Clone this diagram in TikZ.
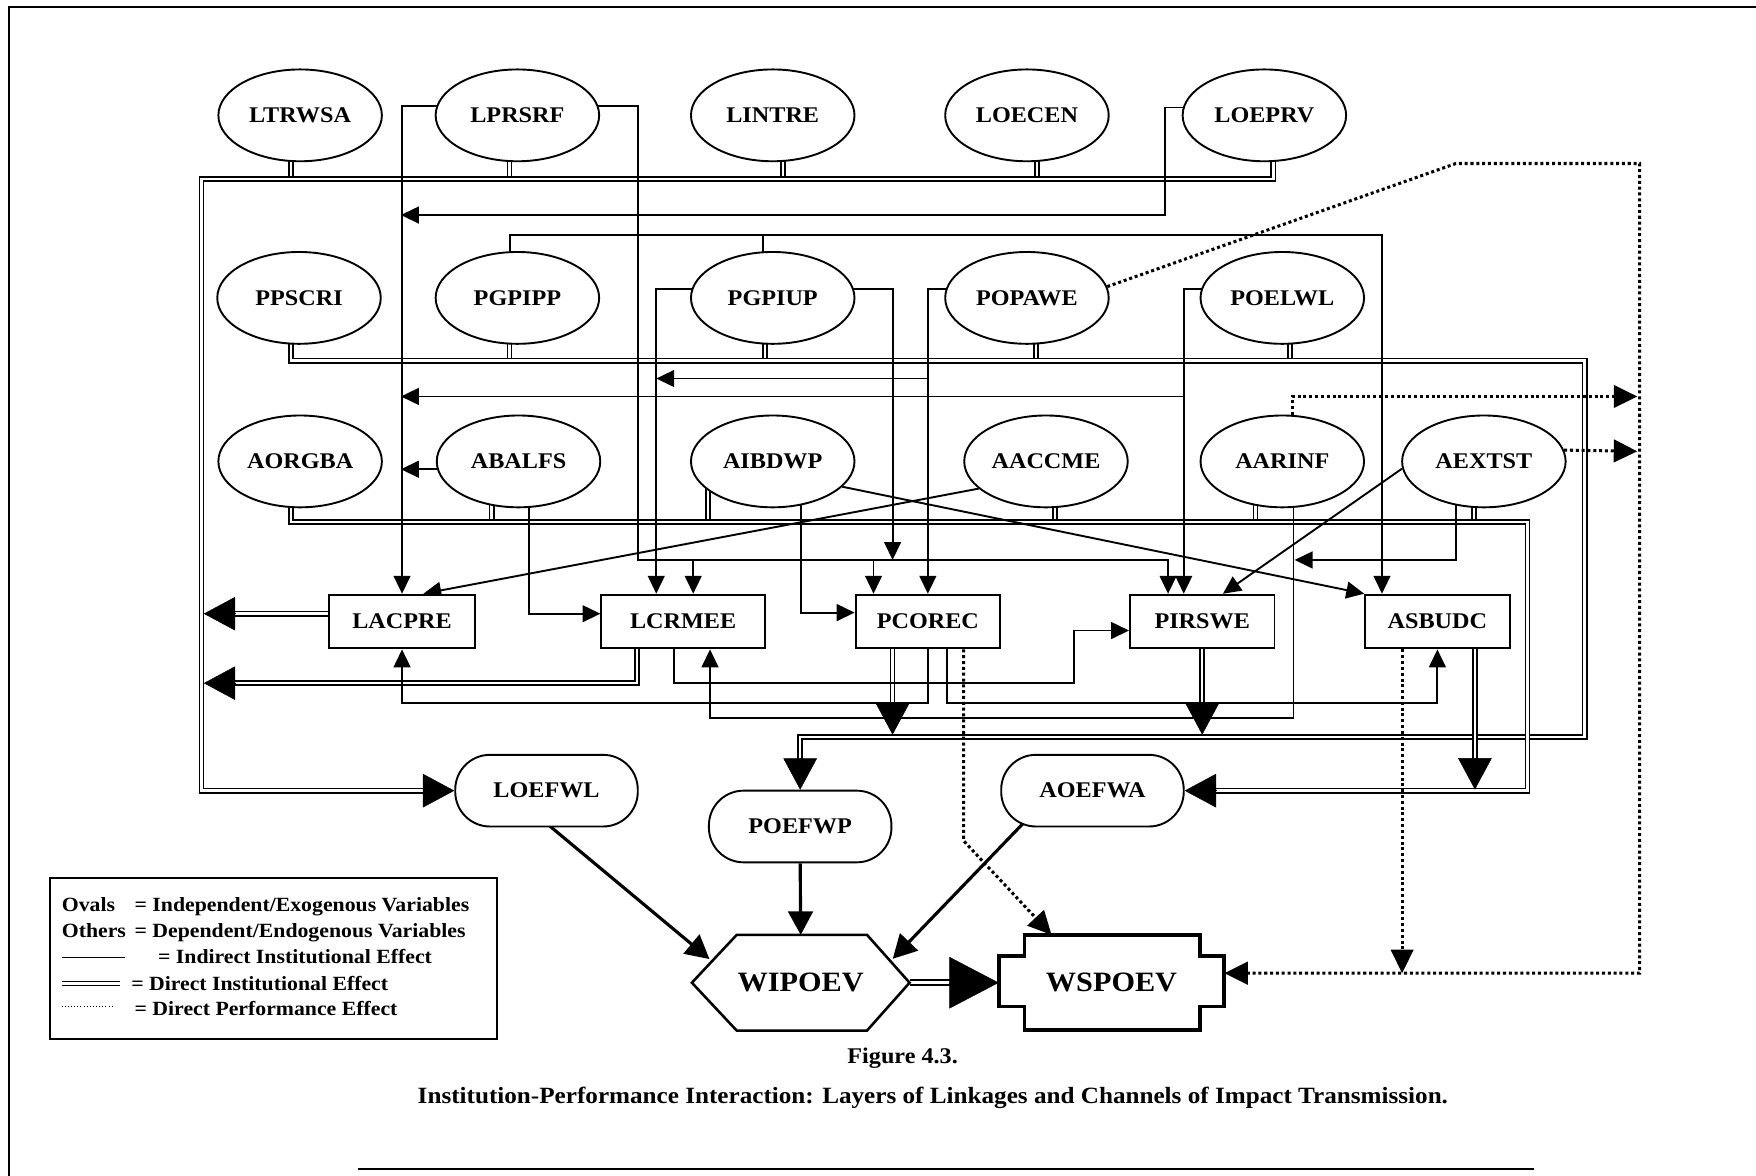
\documentclass[tikz,border=0pt]{standalone}
\usepackage{fontspec}
\setmainfont{Liberation Serif}[FakeStretch=1.08]
\usetikzlibrary{arrows.meta,shapes.geometric,backgrounds,calc}

\tikzset{
  lbl/.style={font=\fontsize{20}{22}\selectfont\bfseries},
  var/.style={ellipse, draw, line width=1.7pt, fill=white, minimum width=146pt,
    minimum height=82pt, inner sep=0pt, lbl},
  endo/.style={rectangle, draw, line width=1.7pt, fill=white, minimum height=48pt,
    inner sep=0pt, lbl},
  pill/.style={rectangle, rounded corners=31pt, draw, line width=1.7pt, fill=white,
    minimum width=163pt, minimum height=64pt, inner sep=0pt, lbl},
  ind/.style={line width=1.7pt},
  dbl/.style={double, double distance=2.2pt, line width=1.5pt},
  perf/.style={line width=2.7pt, dash pattern=on 2.7pt off 2.5pt},
  thk/.style={line width=2.8pt},
  sa/.style={-{Triangle[length=16pt,width=15pt]}},
  ma/.style={-{Triangle[length=21pt,width=22pt]}},
  pa/.style={-{Triangle[length=21pt,width=20pt]}},
  ba/.style={-{Triangle[length=28pt,width=30pt]}},
  legtext/.style={font=\fontsize{18}{20}\selectfont\bfseries, inner sep=0pt, anchor=base west},
}

\begin{document}
\begin{tikzpicture}[x=1pt,y=-1pt]
\useasboundingbox (0,0) rectangle (1568,1050);

% page frame
\draw[line width=1.8pt] (8,1050) -- (8,6) -- (1568,6);
\draw[line width=1.8pt] (320,1044) -- (1370,1044);

% exogenous variables
\node[var] (LTRWSA) at (268,103) {LTRWSA};
\node[var] (LPRSRF) at (462,103) {LPRSRF};
\node[var] (LINTRE) at (690,103) {LINTRE};
\node[var] (LOECEN) at (917,103) {LOECEN};
\node[var] (LOEPRV) at (1129,103) {LOEPRV};
\node[var] (PPSCRI) at (267,266) {PPSCRI};
\node[var] (PGPIPP) at (462,266) {PGPIPP};
\node[var] (PGPIUP) at (690,266) {PGPIUP};
\node[var] (POPAWE) at (917,266) {POPAWE};
\node[var] (POELWL) at (1145,266) {POELWL};
\node[var] (AORGBA) at (268,412) {AORGBA};
\node[var] (ABALFS) at (463,412) {ABALFS};
\node[var] (AIBDWP) at (690,412) {AIBDWP};
\node[var] (AACCME) at (934,412) {AACCME};
\node[var] (AARINF) at (1145,412) {AARINF};
\node[var] (AEXTST) at (1325,412) {AEXTST};

% endogenous variables
\node[endo, minimum width=130pt] (LACPRE) at (359,555) {LACPRE};
\node[endo, minimum width=146pt] (LCRMEE) at (610,555) {LCRMEE};
\node[endo, minimum width=129pt] (PCOREC) at (828.5,555) {PCOREC};
\node[endo, minimum width=129pt] (PIRSWE) at (1073.5,555) {PIRSWE};
\node[endo, minimum width=129pt] (ASBUDC) at (1283.5,555) {ASBUDC};
\node[pill] (LOEFWL) at (488,706) {LOEFWL};
\node[pill] (AOEFWA) at (975.5,706) {AOEFWA};
\node[pill] (POEFWP) at (714.5,738) {POEFWP};

% overall effects
\node[font=\fontsize{25}{27}\selectfont\bfseries, minimum width=194pt, minimum height=85pt,
  inner sep=0pt] (WIPOEV) at (715,877.5) {WIPOEV};
\coordinate (hNW) at ([xshift=40pt]WIPOEV.north west);
\coordinate (hNE) at ([xshift=-38pt]WIPOEV.north east);
\draw[line width=2.3pt] (WIPOEV.west) -- (hNW) -- (hNE) -- (WIPOEV.east)
  -- ([xshift=-38pt]WIPOEV.south east) -- ([xshift=40pt]WIPOEV.south west) -- cycle;
\node[font=\fontsize{25}{27}\selectfont\bfseries, minimum width=201pt, minimum height=85pt,
  inner sep=0pt] (WSPOEV) at (992.5,877.5) {WSPOEV};
\draw[line width=3.4pt] ([shift={(23,0)}]WSPOEV.north west) -- ++(157,0) -- ++(0,19)
  -- ++(21,0) -- ++(0,45) -- ++(-21,0) -- ++(0,21) -- ++(-157,0) -- ++(0,-21)
  -- ++(-23,0) -- ++(0,-45) -- ++(23,0) -- cycle;

% free ends of connectors
\coordinate (aL1) at (358,192);
\coordinate (aL2) at (358,354);
\coordinate (aL3) at (358,419);
\coordinate (aG1) at (586,338);
\coordinate (aD1) at (797,500);
\coordinate (aR1) at (1156,500);
\coordinate (lbA) at (182,548);
\coordinate (lbB) at (182,610);
\coordinate (tpA) at (797,656);
\coordinate (tpB) at (1073.5,656);
\coordinate (tpC) at (1317,705);
\coordinate (pE1) at (1462,354);
\coordinate (pE2) at (1462,403);
\coordinate (pS1) at (1252,869);

\begin{pgfonlayer}{background}
% direct institutional effects
\foreach \n/\x in {LTRWSA/260,LPRSRF/455,LINTRE/699,LOECEN/926}
  \draw[dbl] (\n.center -| \x,0) -- (\x,160);
\foreach \n/\x in {PGPIPP/455,PGPIUP/683,POPAWE/925,POELWL/1152}
  \draw[dbl] (\n.center -| \x,0) -- (\x,322);
\foreach \n/\x in {ABALFS/439,AIBDWP/632,AACCME/942,AARINF/1121,AEXTST/1316}
  \draw[dbl] (\n.center -| \x,0) -- (\x,466);

\draw[dbl, shorten >=27pt] (LOEPRV.center -| 1137,0) -- (1137,160) -- (180,160)
  -- (180,706) -- (LOEFWL.west);
\draw[ba] ([xshift=-28pt]LOEFWL.west) -- (LOEFWL.west);
\draw[dbl, shorten >=27pt] (PPSCRI.center -| 260,0) -- (260,322) -- (1415,322)
  -- (1415,658) -- (714.5,658) -- (POEFWP.north);
\draw[ba] ([yshift=28pt]POEFWP.north) -- (POEFWP.north);
\draw[dbl, shorten >=27pt] (AORGBA.center -| 260,0) -- (260,466) -- (1364,466)
  -- (1364,706) -- (AOEFWA.east);
\draw[ba] ([xshift=28pt]AOEFWA.east) -- (AOEFWA.east);

\draw[dbl, shorten >=27pt] ([yshift=7pt]LACPRE.west) -- (lbA);
\draw[ba] ([xshift=28pt]lbA) -- (lbA);
\draw[dbl, shorten >=27pt] ([xshift=-41pt]LCRMEE.south) |- (lbB);
\draw[ba] ([xshift=28pt]lbB) -- (lbB);
\draw[dbl, shorten >=27pt] ([xshift=-31.5pt]PCOREC.south) -- (tpA);
\draw[ba] ([yshift=28pt]tpA) -- (tpA);
\draw[dbl, shorten >=27pt] (PIRSWE.south) -- (tpB);
\draw[ba] ([yshift=28pt]tpB) -- (tpB);
\draw[dbl, shorten >=27pt] ([xshift=33.5pt]ASBUDC.south) -- (tpC);
\draw[ba] ([yshift=28pt]tpC) -- (tpC);
\draw[dbl, line width=1.8pt, shorten >=42pt] (WIPOEV.east) -- (WSPOEV.west);
\draw[-{Triangle[length=44pt,width=46pt]}] ([xshift=-44pt]WSPOEV.west) -- (WSPOEV.west);

% indirect institutional effects
\draw[ind, sa] ([yshift=8pt]LPRSRF.center) -| (LACPRE.north);
\draw[ind, sa] ([yshift=8pt]LPRSRF.center) -| (570,500) -| ([xshift=9pt]LCRMEE.north);
\draw[ind, sa] ([yshift=8pt]LPRSRF.center) -| (570,500) -| ([xshift=-48.5pt]PCOREC.north);
\draw[ind, sa] ([yshift=8pt]LPRSRF.center) -| (570,500) -| ([xshift=-30.5pt]PIRSWE.north);
\draw[ind, sa] ([yshift=7pt]LOEPRV.center) -| (1040,192) -- (aL1);
\draw[ind, sa] ([xshift=-7pt]PGPIPP.center) |- (1234,210) -- ([xshift=-49.5pt]ASBUDC.north);
\draw[ind] ([xshift=-9pt]PGPIUP.center) -- (681,210);
\draw[ind, sa] ([yshift=8pt]PGPIUP.center) -| ([xshift=-24pt]LCRMEE.north);
\draw[ind, sa] ([yshift=8pt]PGPIUP.center) -| (aD1);
\draw[ind, sa] ([yshift=8pt]POPAWE.center) -| (PCOREC.north);
\draw[ind, sa] ([yshift=8pt]POPAWE.center) -| (829,338) -- (aG1);
\draw[ind, sa] ([yshift=8pt]POELWL.center) -| ([xshift=-16.5pt]PIRSWE.north);
\draw[ind, sa] ([yshift=8pt]POELWL.center) -| (1057,354) -- (aL2);
\draw[ind, sa] ([yshift=-7pt]ABALFS.center) -- (aL3);
\draw[ind, sa] ([xshift=9pt]ABALFS.center) |- ([yshift=7pt]LCRMEE.west);
\draw[ind, sa] ([xshift=25pt]AIBDWP.center) |- ([yshift=8pt]PCOREC.west);
\draw[ind, sa] (AIBDWP.-20) -- (ASBUDC.north west);
\draw[ind, sa] (AACCME.202) -- ([xshift=19pt]LACPRE.north);
\draw[ind, sa] (AEXTST.185) -- ([xshift=18.5pt]PIRSWE.north);
\draw[ind, sa] ([xshift=-25pt]AEXTST.center) |- (aR1);
\draw[ind, sa] ([xshift=10pt]AARINF.center) |- (634,641) -- ([xshift=24pt]LCRMEE.south);
\draw[ind, sa] ([xshift=-8pt]LCRMEE.south) |- (959,610) |- ([yshift=-8pt]PIRSWE.west);
\draw[ind, sa] (PCOREC.south) |- ([yshift=-48pt]LACPRE.south) -- (LACPRE.south);
\draw[ind, sa] ([xshift=17.5pt]PCOREC.south) |- ([yshift=-48pt]ASBUDC.south) -- (ASBUDC.south);

\draw[thk, ma, shorten >=3pt] ([shift={(-17,15)}]LOEFWL.center) -- ($(WIPOEV.west)!0.45!(hNW)$);
\draw[thk, ma] (POEFWP.south) -- (WIPOEV.north);
\draw[thk, ma, shorten >=3pt] ([shift={(-53.5,20.5)}]AOEFWA.center) -- ($(WIPOEV.east)!0.45!(hNE)$);

% direct performance effects
\draw[perf, pa] (POPAWE.8) -- (1300,146) -- (1464,146) -- (1464,869) -- ([yshift=8.5pt]WSPOEV.east);
\draw[perf, pa] ([xshift=9pt]AARINF.north) |- (pE1);
\draw[perf, pa] (AEXTST.8) -- (pE2);
\draw[perf, pa] ([xshift=32pt]PCOREC.south) -- ++(0,171) -- ([xshift=-53.5pt]WSPOEV.north);
\draw[perf, pa] ([xshift=-31.5pt]ASBUDC.south) -- (pS1);
\end{pgfonlayer}

% legend
\node[draw, line width=1.8pt, minimum width=399pt, minimum height=144pt, inner sep=0pt,
  anchor=north west] (legend) at (44,783) {};
\node[legtext] (lg1) at (55,814) {Ovals};
\node[legtext] (lg1e) at (120,814) {= Independent/Exogenous Variables};
\node[legtext] (lg2) at (55,837) {Others};
\node[legtext] (lg2e) at (120,837) {= Dependent/Endogenous Variables};
\draw[ind] (55,855) -- (112,855);
\node[legtext] (lg3e) at (141,860) {= Indirect Institutional Effect};
\draw[dbl, line width=1.1pt] (55,878) -- (107,878);
\node[legtext] (lg4e) at (117,884) {= Direct Institutional Effect};
\draw[dotted, line width=0.8pt] (55,899) -- (100,899);
\node[legtext] (lg5e) at (120,907) {= Direct Performance Effect};

% caption
\node[font=\fontsize{20}{22}\selectfont\bfseries] (fig) at (806,945) {Figure 4.3.};
\node[font=\fontsize{20.8}{23}\selectfont\bfseries] (cap) at (833,980)
  {Institution-Performance Interaction: Layers of Linkages and Channels of Impact Transmission.};
\end{tikzpicture}
\end{document}
